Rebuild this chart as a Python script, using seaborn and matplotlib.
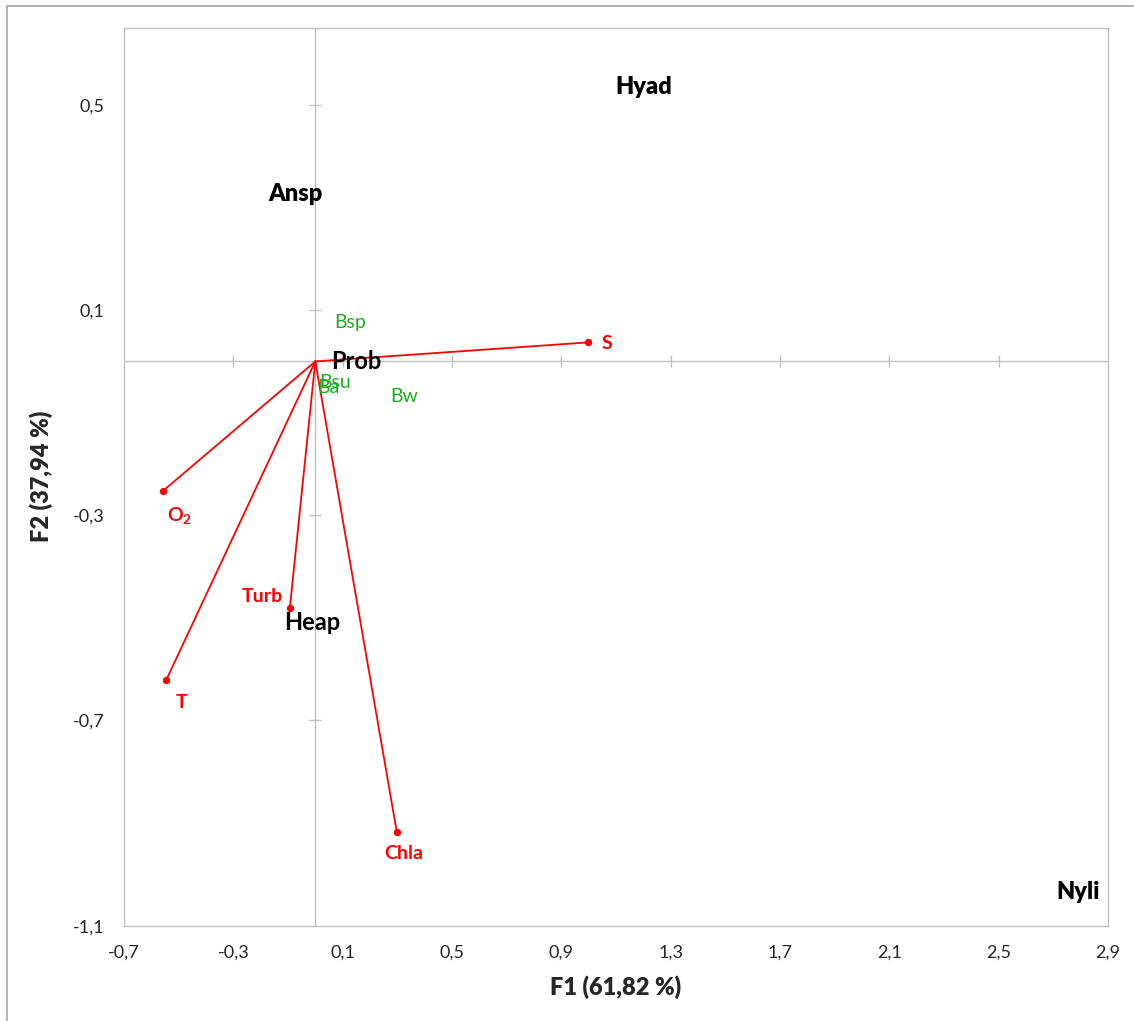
'''
PCA biplot: F1 vs F2 with environmental vectors
'''
# imports
import matplotlib
matplotlib.use('Agg')
from matplotlib import rcParams
from matplotlib.patches import Rectangle
import matplotlib.pyplot as plt
import numpy as np
import pandas as pd
import seaborn as sns

# settings
sns.set_style("white")
rcParams['font.family'] = ['Lato', 'DejaVu Sans']
rcParams['mathtext.fontset'] = 'custom'
rcParams['mathtext.rm'] = 'Lato'
rcParams['mathtext.bf'] = 'Lato:bold'
grey = '#bfbfbf'
red = '#ff0000'
green = '#1aae1a'

# DATA
# environmental variables (red vectors from the origin)
env_names = ['S', r'$\mathbf{O_2}$', 'T', 'Turb', 'Chla']
env_f1 = [0.997, -0.556, -0.546, -0.093, 0.298]
env_f2 = [0.037, -0.252, -0.622, -0.480, -0.917]

# species (black labels)
sp_names = ['Hyad', 'Ansp', 'Prob', 'Heap', 'Nyli']
sp_f1 = [1.203, -0.072, 0.149, -0.010, 2.790]
sp_f2 = [0.535, 0.327, 0.000, -0.510, -1.035]

# bacteria (green labels)
bac_names = ['Bsp', 'Bsu', 'Ba', 'Bw']
bac_f1 = [0.127, 0.072, 0.048, 0.325]
bac_f2 = [0.076, -0.041, -0.050, -0.069]

xticks = [-0.7, -0.3, 0.1, 0.5, 0.9, 1.3, 1.7, 2.1, 2.5, 2.9]
yticks = [-1.1, -0.7, -0.3, 0.1, 0.5]
xlabel = 'F1 (61,82 %)'
ylabel = 'F2 (37,94 %)'

env = pd.DataFrame({'name': env_names, 'F1': env_f1, 'F2': env_f2})

# label offsets in points (style only)
env_offsets = {'S': (14, -1), r'$\mathbf{O_2}$': (12, -18), 'T': (11, -16),
               'Turb': (-20, 8), 'Chla': (5, -16)}
sp_weights = {'Hyad': 'heavy', 'Ansp': 'heavy', 'Prob': 'bold', 'Heap': 'bold', 'Nyli': 'heavy'}

fig = plt.figure(figsize=(11.34, 10.21), dpi=100)
ax = fig.add_axes([0.1093, 0.0934, 0.9771 - 0.1093, 0.9726 - 0.0934])

# zero lines with cross tick marks
ax.axhline(0, color=grey, lw=1, zorder=1)
ax.axvline(0, color=grey, lw=1, zorder=1)
ax.plot(xticks[1:-1], [0] * (len(xticks) - 2), ls='none', marker='|', ms=9, mew=1, color=grey, zorder=1)
ax.plot([0] * (len(yticks) - 1), yticks[1:], ls='none', marker='_', ms=9, mew=1, color=grey, zorder=1)

# vectors
for _, r in env.iterrows():
    ax.plot([0, r['F1']], [0, r['F2']], color=red, lw=1.3, zorder=2)
sns.scatterplot(x='F1', y='F2', data=env, color=red, s=28, edgecolor=red, linewidth=0, ax=ax, zorder=3)
for _, r in env.iterrows():
    ax.annotate(r['name'], (r['F1'], r['F2']), xytext=env_offsets[r['name']], textcoords='offset points',
                ha='center', va='center', color=red, fontsize=14, fontweight='bold', zorder=4)

# species labels
for n, x, y in zip(sp_names, sp_f1, sp_f2):
    ax.text(x, y, n, ha='center', va='center', fontsize=17, fontweight=sp_weights[n], color='black', zorder=4)

# bacteria labels
for n, x, y in zip(bac_names, bac_f1, bac_f2):
    ax.text(x, y, n, ha='center', va='center', fontsize=14, color=green, zorder=4)

ax.set_xlim(xticks[0], xticks[-1])
ax.set_ylim(yticks[0], 0.65)
ax.set_xticks(xticks)
ax.set_yticks(yticks)
ax.set_xticklabels([str(t).replace('.', ',') for t in xticks], fontsize=13)
ax.set_yticklabels([str(t).replace('.', ',') for t in yticks], fontsize=13)
ax.tick_params(length=0, pad=14)
for s in ax.spines.values():
    s.set_color(grey)
    s.set_linewidth(1)
ax.set_xlabel(xlabel, fontsize=17, fontweight='heavy', labelpad=10)
ax.set_ylabel(ylabel, fontsize=17, fontweight='heavy', labelpad=14)

# outer chart border
fig.patches.append(Rectangle((7 / 1134, -0.05), 1.1, 1 - 6 / 1021 + 0.05, transform=fig.transFigure,
                             fill=False, edgecolor='#a6a6a6', lw=1.2))

fig.savefig('out.png', dpi=100)
plt.close()
